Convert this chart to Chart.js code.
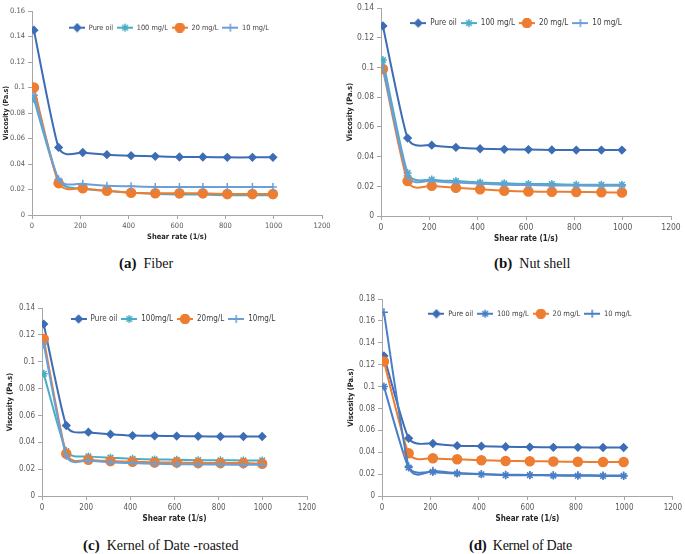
<!DOCTYPE html>
<html><head><meta charset="utf-8">
<script src="https://cdn.jsdelivr.net/npm/chart.js@4"></script>
<style>
html,body{margin:0;padding:0;background:#fff;}
#wrap{position:relative;width:685px;height:554px;overflow:hidden;background:#fff;}
#wrap canvas{position:absolute;}
.cap{position:absolute;font-family:'Liberation Serif','Times New Roman',serif;font-size:14px;color:#111;white-space:nowrap;line-height:18px;}
.cap b{font-weight:bold;font-size:15px;}
</style></head><body>
<div id="wrap">
<canvas id="ca" width="340" height="250" style="left:0;top:0"></canvas>
<canvas id="cb" width="345" height="250" style="left:340px;top:0"></canvas>
<canvas id="cc" width="340" height="250" style="left:0;top:280px"></canvas>
<canvas id="cd" width="345" height="250" style="left:340px;top:280px"></canvas>
<div class="cap" style="left:119px;top:254px"><b>(a)</b>&nbsp; Fiber</div>
<div class="cap" style="left:494px;top:254px"><b>(b)</b>&nbsp; Nut shell</div>
<div class="cap" style="left:83px;top:536px"><b>(c)</b>&nbsp; Kernel of Date -roasted</div>
<div class="cap" style="left:469px;top:536px;letter-spacing:-0.3px"><b>(d)</b>&nbsp; Kernel of Date</div>
</div>
<script>
// ---- data ----
const shearRate = [8, 110, 210, 310, 410, 510, 610, 707, 808, 912, 997];
const xTicks = [0, 200, 400, 600, 800, 1000, 1200];
const namesSpaced = ['Pure oil', '100 mg/L', '20 mg/L', '10 mg/L'];
const namesTight = ['Pure oil', '100mg/L', '20mg/L', '10mg/L'];

const fiberPure = [0.145, 0.053, 0.049, 0.0473, 0.0465, 0.046, 0.0455, 0.0455, 0.0452, 0.0452, 0.0452];
const fiber100  = [0.091, 0.027, 0.0205, 0.019, 0.0175, 0.0165, 0.016, 0.016, 0.0155, 0.0155, 0.0155];
const fiber20   = [0.100, 0.025, 0.021, 0.019, 0.0175, 0.017, 0.017, 0.017, 0.0165, 0.0165, 0.0165];
const fiber10   = [0.094, 0.028, 0.0245, 0.023, 0.0225, 0.022, 0.022, 0.022, 0.022, 0.022, 0.022];

const nutPure = [0.128, 0.0525, 0.0477, 0.0462, 0.0453, 0.0449, 0.0447, 0.0445, 0.0444, 0.0444, 0.0444];
const nut100  = [0.105, 0.029, 0.0245, 0.0235, 0.0225, 0.022, 0.0215, 0.0215, 0.021, 0.021, 0.021];
const nut20   = [0.099, 0.0235, 0.0203, 0.019, 0.018, 0.017, 0.0165, 0.0163, 0.0162, 0.016, 0.0158];
const nut10   = [0.100, 0.027, 0.0238, 0.0225, 0.0218, 0.021, 0.0208, 0.0205, 0.0205, 0.0203, 0.0203];

const roastPure = [0.128, 0.0525, 0.0475, 0.046, 0.045, 0.0448, 0.0446, 0.0445, 0.0443, 0.0443, 0.0443];
const roast100  = [0.091, 0.0335, 0.0295, 0.0285, 0.0277, 0.0272, 0.027, 0.0267, 0.0266, 0.0265, 0.0265];
const roast20   = [0.117, 0.0315, 0.027, 0.026, 0.0255, 0.025, 0.025, 0.0246, 0.0245, 0.0245, 0.024];
const roast10   = [0.113, 0.030, 0.0265, 0.0252, 0.0245, 0.024, 0.0237, 0.0235, 0.0234, 0.0233, 0.0233];

const datePure = [0.128, 0.0527, 0.048, 0.046, 0.0455, 0.045, 0.0447, 0.0445, 0.0445, 0.0443, 0.0443];
const date100  = [0.100, 0.026, 0.022, 0.0205, 0.0198, 0.019, 0.019, 0.0187, 0.0185, 0.0183, 0.0183];
const date20   = [0.123, 0.039, 0.0345, 0.0335, 0.0327, 0.032, 0.0318, 0.0315, 0.0313, 0.031, 0.031];
const date10   = [0.168, 0.027, 0.023, 0.021, 0.020, 0.0195, 0.0192, 0.019, 0.019, 0.0188, 0.0188];

// ---- styles ----
const FONT = "'DejaVu Sans Condensed','DejaVu Sans','Liberation Sans',sans-serif";
const C_PURE = '#3d6db4', C_TEAL = '#4bacc6', C_ORANGE = '#ed7d31', C_LBLUE = '#6a9fd8', C_BLUE = '#4a7ec6';
const markStyles = ['rectRot', 'star', 'circle', 'cross'];
const markRadii = [3.6, 4, 4.5, 4];

// legend laid out horizontally inside the plot area
const LegendEl = Chart.registry.getPlugin('legend')._element;
const origIsH = LegendEl.prototype.isHorizontal;
LegendEl.prototype.isHorizontal = function () {
  return this.options.position === 'chartArea' || origIsH.call(this);
};

// Excel-like smoothed line (uniform Catmull-Rom control points on scale pixels)
const excelSmooth = {
  id: 'excelSmooth',
  beforeDatasetDraw(chart, args) {
    const meta = args.meta;
    meta.dataset.updateControlPoints(chart.chartArea, 'x');
    const pts = meta.data, k = 0.1;
    for (let i = 0; i < pts.length; i++) {
      const p = pts[i], a = pts[Math.max(i - 1, 0)], b = pts[Math.min(i + 1, pts.length - 1)];
      const dx = b.x - a.x, dy = b.y - a.y;
      p.cp1x = p.x - dx * k; p.cp1y = p.y - dy * k;
      p.cp2x = p.x + dx * k; p.cp2y = p.y + dy * k;
    }
  }
};
// place the legend row: centred on cx, shifted down by dy
const legendPlace = {
  id: 'legendPlace',
  afterLayout(chart, args, opts) {
    const l = chart.legend;
    if (!l) return;
    l.left = opts.cx - 170; l.right = opts.cx + 170;
    l.top += opts.dy || 0; l.bottom += opts.dy || 0;
  }
};

function iconFor(color, style, radius) {
  const c = document.createElement('canvas');
  c.width = 16; c.height = 10;
  const g = c.getContext('2d');
  g.strokeStyle = color; g.lineWidth = 2;
  g.beginPath(); g.moveTo(0, 5); g.lineTo(16, 5); g.stroke();
  g.fillStyle = color; g.lineWidth = 1.5;
  Chart.helpers.drawPoint(g, {pointStyle: style, radius: radius, rotation: 0, borderWidth: 1.5}, 8, 5);
  return c;
}

function makeChart(id, cfg) {
  const datasets = cfg.series.map((s, i) => ({
    label: cfg.names[i],
    data: shearRate.map((x, j) => ({x: x, y: s[j]})),
    borderColor: cfg.colors[i],
    backgroundColor: cfg.colors[i],
    borderWidth: 2,
    pointStyle: markStyles[i],
    pointRadius: markRadii[i],
    pointBorderWidth: 1.5,
    tension: 0.4,
    fill: false,
    order: 4 - i
  }));
  new Chart(document.getElementById(id), {
    type: 'line',
    data: {datasets: datasets},
    plugins: [excelSmooth, legendPlace],
    options: {
      responsive: false, animation: false, devicePixelRatio: 1,
      layout: {autoPadding: false, padding: cfg.pad},
      plugins: {
        tooltip: {enabled: false},
        legendPlace: {cx: cfg.legCx, dy: cfg.legDy},
        legend: {
          position: 'chartArea', align: 'center',
          labels: {
            usePointStyle: true, pointStyleWidth: 16, boxHeight: 10,
            padding: cfg.legPad, color: '#404040',
            font: {family: FONT, size: cfg.legFont},
            generateLabels: (chart) => chart.data.datasets.map((d, i) => ({
              text: d.label, fontColor: '#404040', hidden: false, datasetIndex: i,
              pointStyle: iconFor(d.borderColor, d.pointStyle, d.pointRadius),
              lineWidth: 0, strokeStyle: 'transparent', fillStyle: 'transparent'
            }))
          }
        }
      },
      scales: {
        x: {
          type: 'linear', min: 0, max: 1200,
          afterBuildTicks: (s) => { s.ticks = xTicks.map(v => ({value: v})); },
          grid: {display: true, drawOnChartArea: false, drawTicks: true, tickLength: 4, color: '#a6a6a6'},
          border: {display: true, color: '#a6a6a6', width: 1},
          ticks: {padding: 3, color: '#595959', font: {family: FONT, size: cfg.tickFont}, maxRotation: 0, autoSkip: false,
                  callback: (v) => String(v)},
          title: {display: true, text: 'Shear rate (1/s)', color: '#262626', font: {family: FONT, size: cfg.xTitleFont, weight: 'bold'}, padding: {top: 0, bottom: cfg.xTitlePad}},
          afterFit: (s) => { s.height = cfg.xh; }
        },
        y: {
          min: 0, max: cfg.yMax,
          grid: {display: true, drawOnChartArea: false, drawTicks: true, tickLength: 4, color: '#a6a6a6'},
          border: {display: true, color: '#a6a6a6', width: 1},
          ticks: {stepSize: 0.02, padding: 3, color: '#595959', font: {family: FONT, size: cfg.tickFont},
                  callback: (v) => String(Number(v.toFixed(2)))},
          title: {display: true, text: 'Viscosity (Pa.s)', color: '#262626', font: {family: FONT, size: cfg.yTitleFont, weight: 'bold'}, padding: {top: cfg.yTitlePad, bottom: 0}},
          afterFit: (s) => { s.width = cfg.yw; }
        }
      }
    }
  });
}

makeChart('ca', {series: [fiberPure, fiber100, fiber20, fiber10], names: namesSpaced,
  colors: [C_PURE, C_TEAL, C_ORANGE, C_LBLUE], yMax: 0.16,
  pad: {top: 11, right: 18, bottom: 5, left: 0}, xh: 30, yw: 32, xTitlePad: 3, yTitlePad: 2,
  legPad: 4, legCx: 169, legDy: 9, legFont: 7.3, tickFont: 7.5, xTitleFont: 7.5, yTitleFont: 7});
makeChart('cb', {series: [nutPure, nut100, nut20, nut10], names: namesSpaced,
  colors: [C_PURE, C_TEAL, C_ORANGE, C_LBLUE], yMax: 0.14,
  pad: {top: 7, right: 14, bottom: 4, left: 0}, xh: 30, yw: 41, xTitlePad: 2, yTitlePad: 6,
  legPad: 4, legCx: 176, legDy: 7, legFont: 8, tickFont: 8.5, xTitleFont: 8, yTitleFont: 7.5});
makeChart('cc', {series: [roastPure, roast100, roast20, roast10], names: namesTight,
  colors: [C_PURE, C_TEAL, C_ORANGE, C_LBLUE], yMax: 0.14,
  pad: {top: 28, right: 33, bottom: 4, left: 0}, xh: 30, yw: 42, xTitlePad: 2, yTitlePad: 6,
  legPad: 4, legCx: 173, legDy: 3, legFont: 8, tickFont: 8, xTitleFont: 8, yTitleFont: 7.5});
makeChart('cd', {series: [datePure, date100, date20, date10], names: namesSpaced,
  colors: [C_PURE, C_BLUE, C_ORANGE, C_BLUE], yMax: 0.18,
  pad: {top: 19, right: 11, bottom: 4, left: 0}, xh: 30, yw: 42, xTitlePad: 2, yTitlePad: 7,
  legPad: 4, legCx: 190, legDy: 7, legFont: 7.5, tickFont: 8, xTitleFont: 8, yTitleFont: 7.5});
</script>
</body></html>
